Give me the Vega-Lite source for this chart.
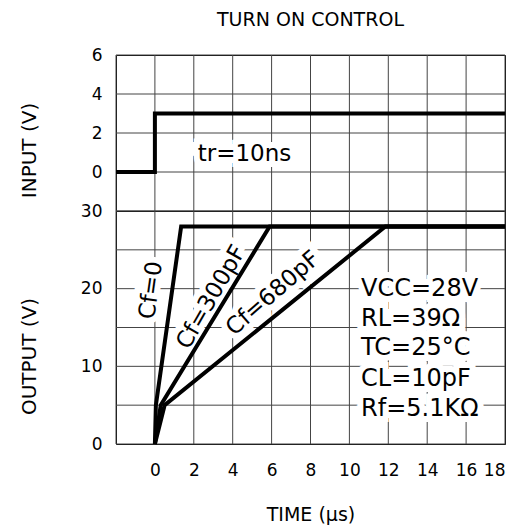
{
  "$schema": "https://vega.github.io/schema/vega-lite/v6.json",
  "padding": {"left": 18, "top": 10, "right": 5, "bottom": 5},
  "spacing": 0,
  "bounds": "flush",
  "config": {
    "font": "DejaVu Sans",
    "concat": {"spacing": 0},
    "view": {"stroke": "black", "strokeWidth": 1},
    "axis": {
      "grid": false,
      "domain": false, "ticks": false, "labelOverlap": false, "minExtent": 0,
      "labelFont": "DejaVu Sans", "labelFontSize": 17, "labelColor": "black",
      "titleFont": "DejaVu Sans", "titleFontSize": 20, "titleFontWeight": "normal", "titleColor": "black"
    }
  },
  "datasets": {
    "gridx": [{"t": -2}, {"t": 0}, {"t": 2}, {"t": 4}, {"t": 6}, {"t": 8}, {"t": 10}, {"t": 12}, {"t": 14}, {"t": 16}, {"t": 18}],
    "gridyin": [{"v": -2}, {"v": 0}, {"v": 2}, {"v": 4}, {"v": 6}],
    "gridyout": [{"v": 0}, {"v": 5}, {"v": 10}, {"v": 15}, {"v": 20}, {"v": 25}, {"v": 30}],
    "input": [
      {"i": 0, "t": -2, "v": 0},
      {"i": 1, "t": 0, "v": 0},
      {"i": 2, "t": 0, "v": 3},
      {"i": 3, "t": 18, "v": 3}
    ],
    "output": [
      {"s": "Cf=0", "i": 0, "t": 0, "v": 0},
      {"s": "Cf=0", "i": 1, "t": 0.05, "v": 5},
      {"s": "Cf=0", "i": 2, "t": 1.35, "v": 28},
      {"s": "Cf=0", "i": 3, "t": 18, "v": 28},
      {"s": "Cf=300pF", "i": 0, "t": 0, "v": 0},
      {"s": "Cf=300pF", "i": 1, "t": 0.3, "v": 5},
      {"s": "Cf=300pF", "i": 2, "t": 5.9, "v": 28},
      {"s": "Cf=300pF", "i": 3, "t": 18, "v": 28},
      {"s": "Cf=680pF", "i": 0, "t": 0, "v": 0},
      {"s": "Cf=680pF", "i": 1, "t": 0.5, "v": 5},
      {"s": "Cf=680pF", "i": 2, "t": 11.85, "v": 28},
      {"s": "Cf=680pF", "i": 3, "t": 18, "v": 28}
    ],
    "notes": [
      {"panel": "input", "label": "tr=10ns", "t": 2.2, "v": 0.92},
      {"panel": "block", "label": "VCC=28V", "t": 10.6, "v": 20},
      {"panel": "block", "label": "RL=39Ω", "t": 10.6, "v": 16.1},
      {"panel": "block", "label": "TC=25°C", "t": 10.6, "v": 12.3},
      {"panel": "block", "label": "CL=10pF", "t": 10.6, "v": 8.4},
      {"panel": "block", "label": "Rf=5.1KΩ", "t": 10.6, "v": 4.5},
      {"panel": "cf0", "label": "Cf=0", "t": -0.2, "v": 19.8},
      {"panel": "cf300", "label": "Cf=300pF", "t": 2.9, "v": 18.9},
      {"panel": "cf680", "label": "Cf=680pF", "t": 6.07, "v": 19.4}
    ]
  },
  "vconcat": [
    {
      "width": 389,
      "height": 156,
      "title": {"text": "TURN ON CONTROL", "fontSize": 19, "fontWeight": "normal", "font": "DejaVu Sans", "anchor": "middle", "frame": "group", "offset": 16, "color": "black"},
      "layer": [
        {
          "data": {"name": "gridx"},
          "mark": {"type": "rule", "color": "#444", "strokeWidth": 1},
          "encoding": {
            "x": {"field": "t", "type": "quantitative", "scale": {"domain": [-2, 18], "nice": false}, "axis": null}
          }
        },
        {
          "data": {"name": "gridyin"},
          "mark": {"type": "rule", "color": "#444", "strokeWidth": 1},
          "encoding": {
            "y": {"field": "v", "type": "quantitative", "scale": {"domain": [-2, 6], "nice": false},
                  "axis": {"values": [0, 2, 4, 6], "labelOverlap": false, "labelPadding": 14,
                           "title": "INPUT (V)", "titleX": -87, "titleY": 95, "titleAngle": 270, "titleAlign": "center", "titleBaseline": "middle"}}
          }
        },
        {
          "data": {"name": "notes"},
          "transform": [{"filter": "datum.panel == 'input'"}],
          "mark": {"type": "text", "align": "left", "baseline": "middle", "fontSize": 23, "fill": "white", "stroke": "white", "strokeWidth": 12},
          "encoding": {"x": {"field": "t", "type": "quantitative"}, "y": {"field": "v", "type": "quantitative"}, "text": {"field": "label"}}
        },
        {
          "data": {"name": "input"},
          "mark": {"type": "line", "color": "black", "strokeWidth": 4, "strokeJoin": "miter", "strokeCap": "butt"},
          "encoding": {"x": {"field": "t", "type": "quantitative"}, "y": {"field": "v", "type": "quantitative"}, "order": {"field": "i"}}
        },
        {
          "data": {"name": "notes"},
          "transform": [{"filter": "datum.panel == 'input'"}],
          "mark": {"type": "text", "align": "left", "baseline": "middle", "fontSize": 23, "fill": "black"},
          "encoding": {"x": {"field": "t", "type": "quantitative"}, "y": {"field": "v", "type": "quantitative"}, "text": {"field": "label"}}
        }
      ]
    },
    {
      "width": 389,
      "height": 233,
      "layer": [
        {
          "data": {"name": "gridx"},
          "mark": {"type": "rule", "color": "#444", "strokeWidth": 1},
          "encoding": {
            "x": {"field": "t", "type": "quantitative", "scale": {"domain": [-2, 18], "nice": false},
                  "axis": {"values": [0, 2, 4, 6, 8, 10, 12, 14, 16, 18], "labelOverlap": false, "labelPadding": 18,
                           "title": "TIME (µs)", "titleFontSize": 19, "titlePadding": 27}}
          }
        },
        {
          "data": {"name": "gridyout"},
          "mark": {"type": "rule", "color": "#444", "strokeWidth": 1},
          "encoding": {
            "y": {"field": "v", "type": "quantitative", "scale": {"domain": [0, 30], "nice": false},
                  "axis": {"values": [0, 10, 20, 30], "labelOverlap": false, "labelPadding": 14,
                           "title": "OUTPUT (V)", "titleX": -87, "titleY": 145, "titleAngle": 270, "titleAlign": "center", "titleBaseline": "middle"}}
          }
        },
        {
          "data": {"name": "notes"},
          "transform": [{"filter": "datum.panel == 'block'"}],
          "mark": {"type": "text", "align": "left", "baseline": "middle", "fontSize": 24, "fill": "white", "stroke": "white", "strokeWidth": 12},
          "encoding": {"x": {"field": "t", "type": "quantitative"}, "y": {"field": "v", "type": "quantitative"}, "text": {"field": "label"}}
        },
        {
          "data": {"name": "notes"},
          "transform": [{"filter": "datum.panel == 'cf0'"}],
          "mark": {"type": "text", "align": "center", "baseline": "middle", "fontSize": 23, "angle": 278, "fill": "white", "stroke": "white", "strokeWidth": 12},
          "encoding": {"x": {"field": "t", "type": "quantitative"}, "y": {"field": "v", "type": "quantitative"}, "text": {"field": "label"}}
        },
        {
          "data": {"name": "notes"},
          "transform": [{"filter": "datum.panel == 'cf300'"}],
          "mark": {"type": "text", "align": "center", "baseline": "middle", "fontSize": 23, "angle": 300, "fill": "white", "stroke": "white", "strokeWidth": 12},
          "encoding": {"x": {"field": "t", "type": "quantitative"}, "y": {"field": "v", "type": "quantitative"}, "text": {"field": "label"}}
        },
        {
          "data": {"name": "notes"},
          "transform": [{"filter": "datum.panel == 'cf680'"}],
          "mark": {"type": "text", "align": "center", "baseline": "middle", "fontSize": 23, "angle": 319, "fill": "white", "stroke": "white", "strokeWidth": 12},
          "encoding": {"x": {"field": "t", "type": "quantitative"}, "y": {"field": "v", "type": "quantitative"}, "text": {"field": "label"}}
        },
        {
          "data": {"name": "output"},
          "mark": {"type": "line", "color": "black", "strokeWidth": 4, "strokeJoin": "miter", "strokeCap": "butt"},
          "encoding": {"x": {"field": "t", "type": "quantitative"}, "y": {"field": "v", "type": "quantitative"}, "detail": {"field": "s"}, "order": {"field": "i"}}
        },
        {
          "data": {"name": "notes"},
          "transform": [{"filter": "datum.panel == 'block'"}],
          "mark": {"type": "text", "align": "left", "baseline": "middle", "fontSize": 24, "fill": "black"},
          "encoding": {"x": {"field": "t", "type": "quantitative"}, "y": {"field": "v", "type": "quantitative"}, "text": {"field": "label"}}
        },
        {
          "data": {"name": "notes"},
          "transform": [{"filter": "datum.panel == 'cf0'"}],
          "mark": {"type": "text", "align": "center", "baseline": "middle", "fontSize": 23, "angle": 278, "fill": "black"},
          "encoding": {"x": {"field": "t", "type": "quantitative"}, "y": {"field": "v", "type": "quantitative"}, "text": {"field": "label"}}
        },
        {
          "data": {"name": "notes"},
          "transform": [{"filter": "datum.panel == 'cf300'"}],
          "mark": {"type": "text", "align": "center", "baseline": "middle", "fontSize": 23, "angle": 300, "fill": "black"},
          "encoding": {"x": {"field": "t", "type": "quantitative"}, "y": {"field": "v", "type": "quantitative"}, "text": {"field": "label"}}
        },
        {
          "data": {"name": "notes"},
          "transform": [{"filter": "datum.panel == 'cf680'"}],
          "mark": {"type": "text", "align": "center", "baseline": "middle", "fontSize": 23, "angle": 319, "fill": "black"},
          "encoding": {"x": {"field": "t", "type": "quantitative"}, "y": {"field": "v", "type": "quantitative"}, "text": {"field": "label"}}
        }
      ]
    }
  ]
}
